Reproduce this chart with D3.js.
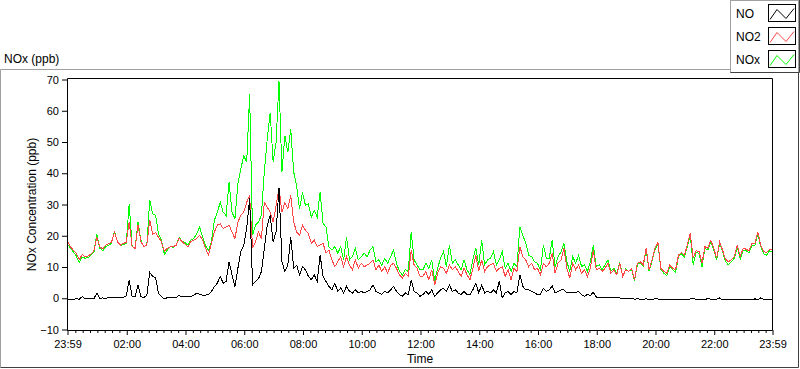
<!DOCTYPE html>
<html>
<head>
<meta charset="utf-8">
<script src="https://cdn.jsdelivr.net/npm/d3@7"></script>
<style>
body { margin: 0; background: #fff; }
svg { display: block; font-family: "Liberation Sans", Arial, sans-serif; }
</style>
</head>
<body>
<script>
// readings every 6 minutes, from 23:59 to 23:59 next day
var no = [
 -0.4,-0.3,-0.3,-0.2,-0.3,0.5,-0.1,-0.2,0.0,-0.1,1.6,0.0,0.1,0.0,0.2,0.1,0.3,0.2,0.4,0.3,
 0.8,5.8,0.5,0.6,4.3,0.5,0.3,0.8,8.3,7.0,6.5,1.5,0.5,-0.2,0.2,0.1,0.3,0.3,0.9,0.4,
 0.5,0.6,0.5,1.0,1.6,1.3,1.0,1.0,1.2,2.2,3.7,4.8,7.0,4.8,5.4,11.7,7.5,3.7,9.6,14.9,
 17.0,22.3,32.0,4.3,5.4,6.2,8.5,16.0,23.4,26.5,18.1,21.2,35.4,11.7,8.5,10.6,19.6,9.6,10.6,7.5,
 10.1,9.1,7.0,5.9,7.5,5.4,13.8,7.0,5.4,3.8,2.7,4.8,2.2,3.3,1.7,3.8,2.2,1.7,2.7,1.7,
 2.2,1.7,2.2,2.7,4.3,2.2,1.7,1.2,2.2,1.7,2.7,3.8,2.2,1.2,0.6,1.7,1.2,5.9,2.2,1.7,
 0.6,1.2,2.2,1.2,2.7,0.6,1.7,2.7,3.2,2.2,4.3,2.2,2.7,1.7,1.2,2.2,1.2,1.2,2.7,4.8,
 1.7,4.3,1.7,2.2,1.7,2.7,1.7,5.4,0.1,1.7,2.2,1.2,2.2,1.7,7.5,3.8,2.7,2.7,2.2,1.7,
 1.2,1.2,3.2,2.2,2.7,4.0,1.7,2.2,2.7,2.7,1.7,1.7,1.7,1.9,2.2,1.2,0.6,1.2,0.9,1.9,
 0.4,0.4,0.1,0.4,0.4,0.1,0.1,0.1,0.1,-0.1,-0.1,-0.1,-0.1,-0.3,-0.2,-0.3,-0.3,-0.2,-0.4,-0.3,
 -0.2,-0.2,-0.5,-0.5,-0.4,-0.5,-0.3,-0.5,-0.4,-0.5,-0.3,-0.5,-0.2,0.1,-0.4,-0.5,-0.3,-0.5,0.0,-0.4,
 -0.5,-0.3,0.1,-0.5,-0.4,-0.5,-0.5,-0.3,-0.4,-0.5,-0.4,-0.5,-0.3,-0.5,-0.2,-0.4,0.1,-0.3,-0.5,-0.5,
 -0.4
]
var no2 = [
 18.1,16.5,15.4,14.4,12.3,14.0,13.3,13.5,14.2,15.2,19.5,16.5,15.8,17.0,17.5,18.0,21.0,18.1,17.0,17.6,
 17.8,24.5,16.5,16.0,23.5,18.1,16.5,17.0,25.0,20.5,21.0,19.5,18.0,15.0,16.0,16.5,16.5,17.0,19.3,18.1,
 17.3,16.5,18.1,18.6,19.1,20.2,18.6,16.0,13.8,17.5,21.2,23.4,23.8,22.3,22.8,23.4,21.2,19.1,24.4,26.5,
 27.5,30.7,32.9,16.0,18.1,21.2,19.1,30.7,29.1,27.5,24.4,29.6,35.4,27.5,30.7,28.6,32.9,24.4,21.2,20.2,
 23.4,21.8,20.7,17.6,18.6,16.5,17.1,17.6,14.4,15.4,12.3,10.1,11.7,13.3,10.1,13.3,10.6,9.1,12.3,9.6,
 11.2,10.1,10.6,11.2,12.3,9.1,10.6,8.6,10.1,8.0,10.6,11.2,9.6,7.5,6.4,8.0,7.0,15.4,10.6,9.6,
 7.0,7.0,8.6,5.9,9.1,4.3,8.0,10.1,9.6,8.0,10.7,9.1,10.1,8.6,7.0,9.6,7.5,5.9,9.6,13.8,
 8.6,12.3,8.6,10.1,10.7,11.2,8.6,9.6,10.1,7.0,9.1,5.9,9.6,8.6,16.5,13.3,12.3,10.1,11.2,9.1,
 9.6,7.5,11.2,10.1,11.2,14.4,8.0,11.2,12.3,16.0,9.6,6.4,11.2,9.1,10.7,8.0,9.1,7.0,9.6,15.4,
 9.1,9.6,8.6,9.6,11.2,8.0,9.1,7.5,11.2,7.0,9.1,8.6,9.6,5.9,11.2,11.7,10.7,16.0,9.1,12.3,
 16.0,17.8,9.6,8.6,8.0,10.7,9.6,9.1,13.8,14.6,13.8,17.0,20.7,12.8,15.2,14.9,11.2,16.5,16.0,18.6,
 16.0,12.8,18.1,15.4,12.5,11.7,12.3,13.3,17.0,13.3,16.0,15.7,15.2,17.6,17.6,21.3,17.0,14.9,14.6,15.7,
 15.4
]
var nox = [
 17.3,16.0,14.8,13.5,11.4,13.2,12.8,13.0,13.8,14.8,20.5,16.0,15.2,16.5,17.0,17.6,21.5,18.0,16.8,17.2,
 17.5,30.3,16.5,16.0,24.5,18.5,16.5,17.0,31.5,27.0,26.5,20.5,18.5,14.0,15.5,16.5,16.3,17.0,19.5,18.3,
 17.8,17.0,18.6,19.1,20.7,22.8,19.5,16.8,15.4,18.1,25.0,27.5,30.7,27.5,26.5,37.1,27.5,25.5,36.6,41.4,
 45.6,43.5,65.2,20.2,23.4,24.4,26.5,40.4,51.0,59.4,43.5,49.9,69.5,40.4,52.0,46.7,54.1,40.4,36.0,28.6,
 33.9,29.7,30.2,26.0,28.1,26.0,34.0,23.9,22.8,16.5,15.4,16.5,14.4,16.5,12.3,19.6,12.3,13.3,16.0,12.3,
 13.3,14.4,13.3,15.4,16.5,11.7,12.3,10.6,12.8,11.2,13.3,15.4,11.2,8.6,7.5,9.1,8.6,21.2,12.3,10.6,
 9.1,9.1,11.2,9.6,12.3,5.4,9.6,12.8,14.9,10.1,17.0,11.2,12.3,10.7,9.1,12.3,9.1,7.5,12.3,16.0,
 10.7,18.6,10.7,12.3,12.8,14.9,10.7,12.3,14.9,9.6,11.2,8.6,11.2,10.1,22.9,20.2,17.6,13.8,13.3,11.7,
 11.2,9.1,17.0,12.8,12.8,18.6,10.1,13.3,14.9,17.6,11.7,8.6,13.3,11.2,13.8,10.1,10.7,8.6,11.7,17.0,
 10.1,10.7,9.1,10.7,12.3,8.6,9.6,8.0,11.4,7.0,9.3,8.6,9.3,5.5,10.8,11.3,10.3,15.6,8.6,11.9,
 15.6,17.4,9.1,8.0,7.2,10.1,9.1,8.3,13.3,14.2,13.3,16.5,20.2,10.7,14.7,14.4,10.0,16.0,15.4,18.0,
 15.4,12.3,17.6,14.9,11.7,10.7,11.7,12.8,16.5,12.5,15.4,15.2,14.6,17.0,17.0,20.5,16.5,14.2,13.8,15.2,
 14.9
]
var seriesNames = ["NO", "NO2", "NOx"]
var seriesColors = ["#000000", "#ff4646", "#00ff00"]
var yTicks = [-10, 0, 10, 20, 30, 40, 50, 60, 70]
var stepMin = 6
var startTime = new Date(2000, 0, 1, 23, 59)
var endTime = d3.timeMinute.offset(startTime, 24 * 60)

var times = no.map(function(d, i) { return d3.timeMinute.offset(startTime, i * stepMin) })

var svg = d3.select("body").append("svg")
  .attr("width", 800)
  .attr("height", 369)

var plot = {left: 67.5, right: 772.5, top: 78.5, bottom: 330.5}

var x = d3.scaleTime().domain([startTime, endTime]).range([plot.left, plot.right])
var y = d3.scaleLinear().domain([-10, 70]).range([329.5, 79.5])

// outer frame
svg.append("path").attr("d", "M0.5,367.5 L0.5,69.5 L730,69.5")
  .attr("fill", "none").attr("stroke", "#a0a0a0")
svg.append("path").attr("d", "M0.5,367.5 L798.5,367.5 L798.5,72")
  .attr("fill", "none").attr("stroke", "#404040")

svg.append("text").attr("x", 4).attr("y", 63)
  .attr("font-size", 12).text("NOx (ppb)")

// plot area background
svg.append("rect")
  .attr("x", plot.left).attr("y", plot.top)
  .attr("width", plot.right - plot.left).attr("height", plot.bottom - plot.top)
  .attr("fill", "#fff")

svg.append("clipPath").attr("id", "clip").append("rect")
  .attr("x", plot.left).attr("y", plot.top)
  .attr("width", plot.right - plot.left).attr("height", plot.bottom - plot.top)

var line = function(vals) {
  return d3.line()
    .x(function(d, i) { return x(times[i]) })
    .y(function(d) { return y(d) })(vals)
}

var g = svg.append("g").attr("clip-path", "url(#clip)")
var drawOrder = [[nox, 2], [no2, 1], [no, 0]]
drawOrder.forEach(function(s) {
  g.append("path")
    .attr("d", line(s[0]))
    .attr("fill", "none")
    .attr("stroke", seriesColors[s[1]])
    .attr("stroke-width", 1)
    .attr("shape-rendering", "crispEdges")
})

// plot border
svg.append("path").attr("d", "M" + plot.left + "," + plot.bottom + " L" + plot.left + "," + plot.top + " L" + plot.right + "," + plot.top)
  .attr("fill", "none").attr("stroke", "#000")
svg.append("path").attr("d", "M" + plot.left + "," + plot.bottom + " L" + plot.right + "," + plot.bottom + " L" + plot.right + "," + plot.top)
  .attr("fill", "none").attr("stroke", "#000")

// y axis
var yAxis = svg.append("g")
  .attr("transform", "translate(" + (plot.left - 0.5) + ",0)")
  .call(d3.axisLeft(y).tickValues(yTicks).tickSize(5).tickPadding(3).tickSizeOuter(0))
yAxis.select(".domain").remove()
yAxis.selectAll("text").attr("font-size", 11).attr("font-family", "Liberation Sans, Arial, sans-serif").attr("fill", "#000")

// x axis
var majors = [startTime].concat(d3.timeHour.every(2).range(d3.timeMinute.offset(startTime, 61), endTime)).concat([endTime])
var minors = d3.timeMinute.every(15).range(d3.timeMinute.offset(startTime, 2), endTime)
  .filter(function(t) { return t.getMinutes() != 0 || t.getHours() % 2 != 0 })

var xMinor = svg.append("g")
  .attr("transform", "translate(0," + (plot.bottom - 0.5) + ")")
  .call(d3.axisBottom(x).tickValues(minors).tickSize(3).tickFormat("").tickSizeOuter(0))
xMinor.select(".domain").remove()

var xAxis = svg.append("g")
  .attr("transform", "translate(0," + (plot.bottom - 0.5) + ")")
  .call(d3.axisBottom(x).tickValues(majors).tickSize(5).tickPadding(5).tickSizeOuter(0)
    .tickFormat(d3.timeFormat("%H:%M")))
xAxis.select(".domain").remove()
xAxis.selectAll("text").attr("font-size", 11).attr("font-family", "Liberation Sans, Arial, sans-serif").attr("fill", "#000")

svg.append("text").attr("x", (plot.left + plot.right) / 2).attr("y", 363)
  .attr("text-anchor", "middle").attr("font-size", 12).text("Time")

svg.append("text")
  .attr("transform", "translate(36," + ((plot.top + plot.bottom) / 2) + ") rotate(-90)")
  .attr("text-anchor", "middle").attr("font-size", 12).text("NOx Concentration (ppb)")

// legend
var legend = svg.append("g")
legend.append("rect").attr("x", 730.5).attr("y", 0.5).attr("width", 68).attr("height", 72)
  .attr("fill", "#fff").attr("stroke", "#a0a0a0")
legend.append("path").attr("d", "M730.5,72.5 L799.5,72.5 L799.5,0")
  .attr("fill", "none").attr("stroke", "#404040")

seriesNames.forEach(function(name, i) {
  var top = 4.5 + i * 23
  legend.append("text").attr("x", 736).attr("y", top + 13)
    .attr("font-size", 12).text(name)
  legend.append("rect").attr("x", 768.5).attr("y", top).attr("width", 27).attr("height", 17)
    .attr("fill", "#fff").attr("stroke", "#000")
  legend.append("polyline")
    .attr("points", [[770, top + 15], [777, top + 5], [786, top + 14], [794, top + 4]].join(" "))
    .attr("fill", "none").attr("stroke", seriesColors[i]).attr("stroke-width", 1)
})
</script>
</body>
</html>
